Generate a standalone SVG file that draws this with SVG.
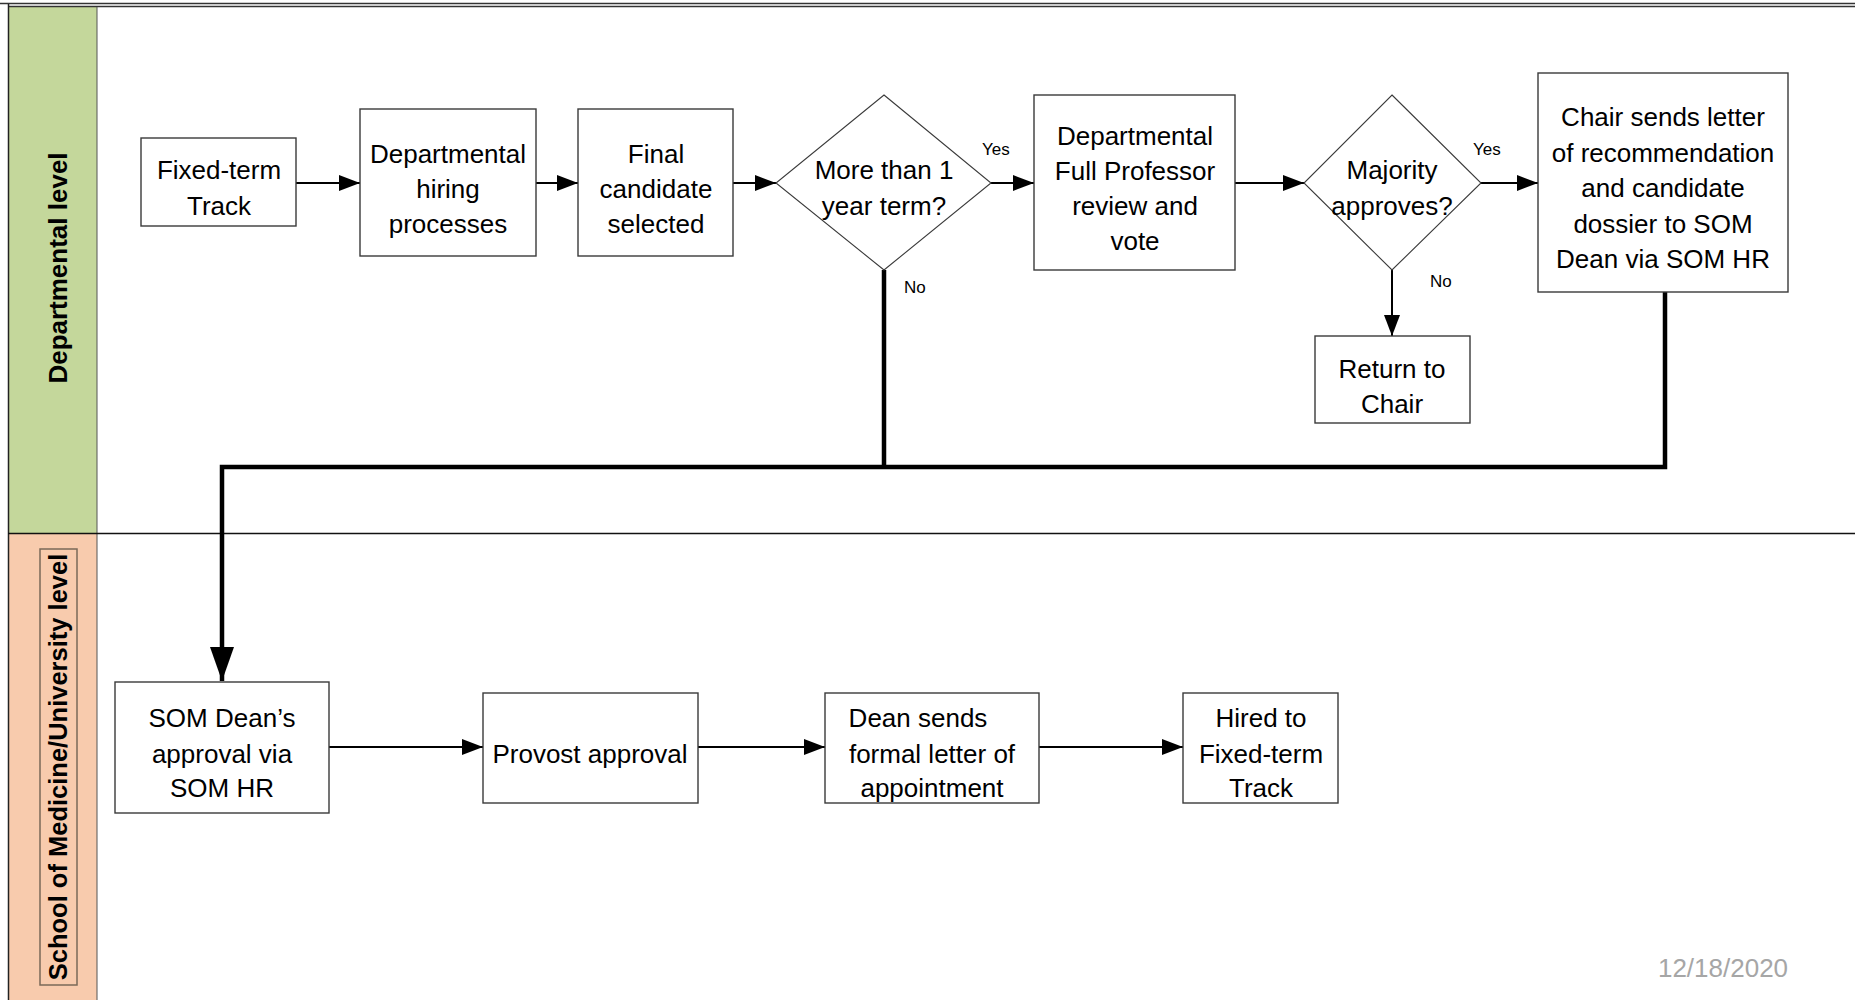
<svg xmlns="http://www.w3.org/2000/svg" width="1855" height="1000" viewBox="0 0 1855 1000">
<style>
.box{fill:#fff;stroke:#3a3a3a;stroke-width:1.4}
.dia{fill:#fff;stroke:#3a3a3a;stroke-width:1.1}
.t{font-family:"Liberation Sans",Arial,sans-serif;font-size:26px;fill:#000;text-anchor:middle}
.lab{font-family:"Liberation Sans",Arial,sans-serif;font-size:17px;fill:#000}
.lane{font-family:"Liberation Sans",Arial,sans-serif;font-weight:bold;fill:#000;text-anchor:middle}
.c{fill:none;stroke:#000;stroke-width:2}
.ck{fill:none;stroke:#000;stroke-width:4.5}
</style>
<defs>
<marker id="a" markerUnits="userSpaceOnUse" markerWidth="22" markerHeight="16" refX="21" refY="8" orient="auto">
<path d="M0,0 L21,8 L0,16 Z" fill="#000"/>
</marker>
<marker id="ab" markerUnits="userSpaceOnUse" markerWidth="36" markerHeight="24" refX="34" refY="12" orient="auto">
<path d="M0,0 L34,12 L0,24 Z" fill="#000"/>
</marker>
</defs>
<rect width="1855" height="1000" fill="#fff"/>
<g id="lanes">
<rect x="8" y="7" width="89" height="526" fill="#C4D79B"/>
<rect x="8" y="533" width="89" height="467" fill="#F8CBAD"/>
<line x1="0" y1="3.5" x2="1855" y2="3.5" stroke="#333" stroke-width="1.5"/>
<line x1="8" y1="6.5" x2="1855" y2="6.5" stroke="#333" stroke-width="1.5"/>
<line x1="8.5" y1="4" x2="8.5" y2="1000" stroke="#222" stroke-width="1.5"/>
<line x1="97" y1="7" x2="97" y2="1000" stroke="#555" stroke-width="1"/>
<line x1="8" y1="533.5" x2="1855" y2="533.5" stroke="#111" stroke-width="1.5"/>
<text class="lane" font-size="26" transform="translate(67,268) rotate(-90)">Departmental level</text>
<rect x="40" y="549" width="37" height="436" fill="none" stroke="#7a6a58" stroke-width="1.5"/>
<text class="lane" font-size="25.5" transform="translate(67,767) rotate(-90)">School of Medicine/University level</text>
</g>
<g id="connectors">
<line class="c" x1="296" y1="183" x2="360" y2="183" marker-end="url(#a)"/>
<line class="c" x1="536" y1="183" x2="578" y2="183" marker-end="url(#a)"/>
<line class="c" x1="733" y1="183" x2="776" y2="183" marker-end="url(#a)"/>
<line class="c" x1="991" y1="183" x2="1034" y2="183" marker-end="url(#a)"/>
<line class="c" x1="1235" y1="183" x2="1304" y2="183" marker-end="url(#a)"/>
<line class="c" x1="1481" y1="183" x2="1538" y2="183" marker-end="url(#a)"/>
<line class="c" x1="1392" y1="270" x2="1392" y2="336" marker-end="url(#a)"/>
<line class="c" x1="329" y1="747" x2="483" y2="747" marker-end="url(#a)"/>
<line class="c" x1="698" y1="747" x2="825" y2="747" marker-end="url(#a)"/>
<line class="c" x1="1039" y1="747" x2="1183" y2="747" marker-end="url(#a)"/>
<path class="ck" d="M884,270 V467"/>
<path class="ck" d="M1665,292 V467 H222 V681" marker-end="url(#ab)"/>
<text class="lab" x="982" y="155">Yes</text>
<text class="lab" x="904" y="293">No</text>
<text class="lab" x="1473" y="155">Yes</text>
<text class="lab" x="1430" y="287">No</text>
</g>
<g id="n1"><rect class="box" x="141" y="138" width="155" height="88"/>
<text class="t" x="219" y="179">Fixed-term</text><text class="t" x="219" y="215">Track</text></g>
<g id="n2"><rect class="box" x="360" y="109" width="176" height="147"/>
<text class="t" x="448" y="163">Departmental</text><text class="t" x="448" y="198">hiring</text><text class="t" x="448" y="233">processes</text></g>
<g id="n3"><rect class="box" x="578" y="109" width="155" height="147"/>
<text class="t" x="656" y="163">Final</text><text class="t" x="656" y="198">candidate</text><text class="t" x="656" y="233">selected</text></g>
<g id="d1"><polygon class="dia" points="884,95 991,183 884,270 776,183"/>
<text class="t" x="884" y="179">More than 1</text><text class="t" x="884" y="215">year term?</text></g>
<g id="n5"><rect class="box" x="1034" y="95" width="201" height="175"/>
<text class="t" x="1135" y="145">Departmental</text><text class="t" x="1135" y="180">Full Professor</text><text class="t" x="1135" y="215">review and</text><text class="t" x="1135" y="250">vote</text></g>
<g id="d2"><polygon class="dia" points="1392,95 1481,183 1392,270 1304,183"/>
<text class="t" x="1392" y="179">Majority</text><text class="t" x="1392" y="215">approves?</text></g>
<g id="n7"><rect class="box" x="1538" y="73" width="250" height="219"/>
<text class="t" x="1663" y="126">Chair sends letter</text><text class="t" x="1663" y="162">of recommendation</text><text class="t" x="1663" y="197">and candidate</text><text class="t" x="1663" y="233">dossier to SOM</text><text class="t" x="1663" y="268">Dean via SOM HR</text></g>
<g id="n8"><rect class="box" x="1315" y="336" width="155" height="87"/>
<text class="t" x="1392" y="378">Return to</text><text class="t" x="1392" y="413">Chair</text></g>
<g id="n9"><rect class="box" x="115" y="682" width="214" height="131"/>
<text class="t" x="222" y="727">SOM Dean’s</text><text class="t" x="222" y="763">approval via</text><text class="t" x="222" y="797">SOM HR</text></g>
<g id="n10"><rect class="box" x="483" y="693" width="215" height="110"/>
<text class="t" x="590" y="763">Provost approval</text></g>
<g id="n11"><rect class="box" x="825" y="693" width="214" height="110"/>
<text class="t" x="918" y="727">Dean sends</text><text class="t" x="932" y="763">formal letter of</text><text class="t" x="932" y="797">appointment</text></g>
<g id="n12"><rect class="box" x="1183" y="693" width="155" height="110"/>
<text class="t" x="1261" y="727">Hired to</text><text class="t" x="1261" y="763">Fixed-term</text><text class="t" x="1261" y="797">Track</text></g>
<text x="1723" y="977" font-family="'Liberation Sans',Arial,sans-serif" font-size="26" fill="#a6a6a6" text-anchor="middle">12/18/2020</text>
</svg>
